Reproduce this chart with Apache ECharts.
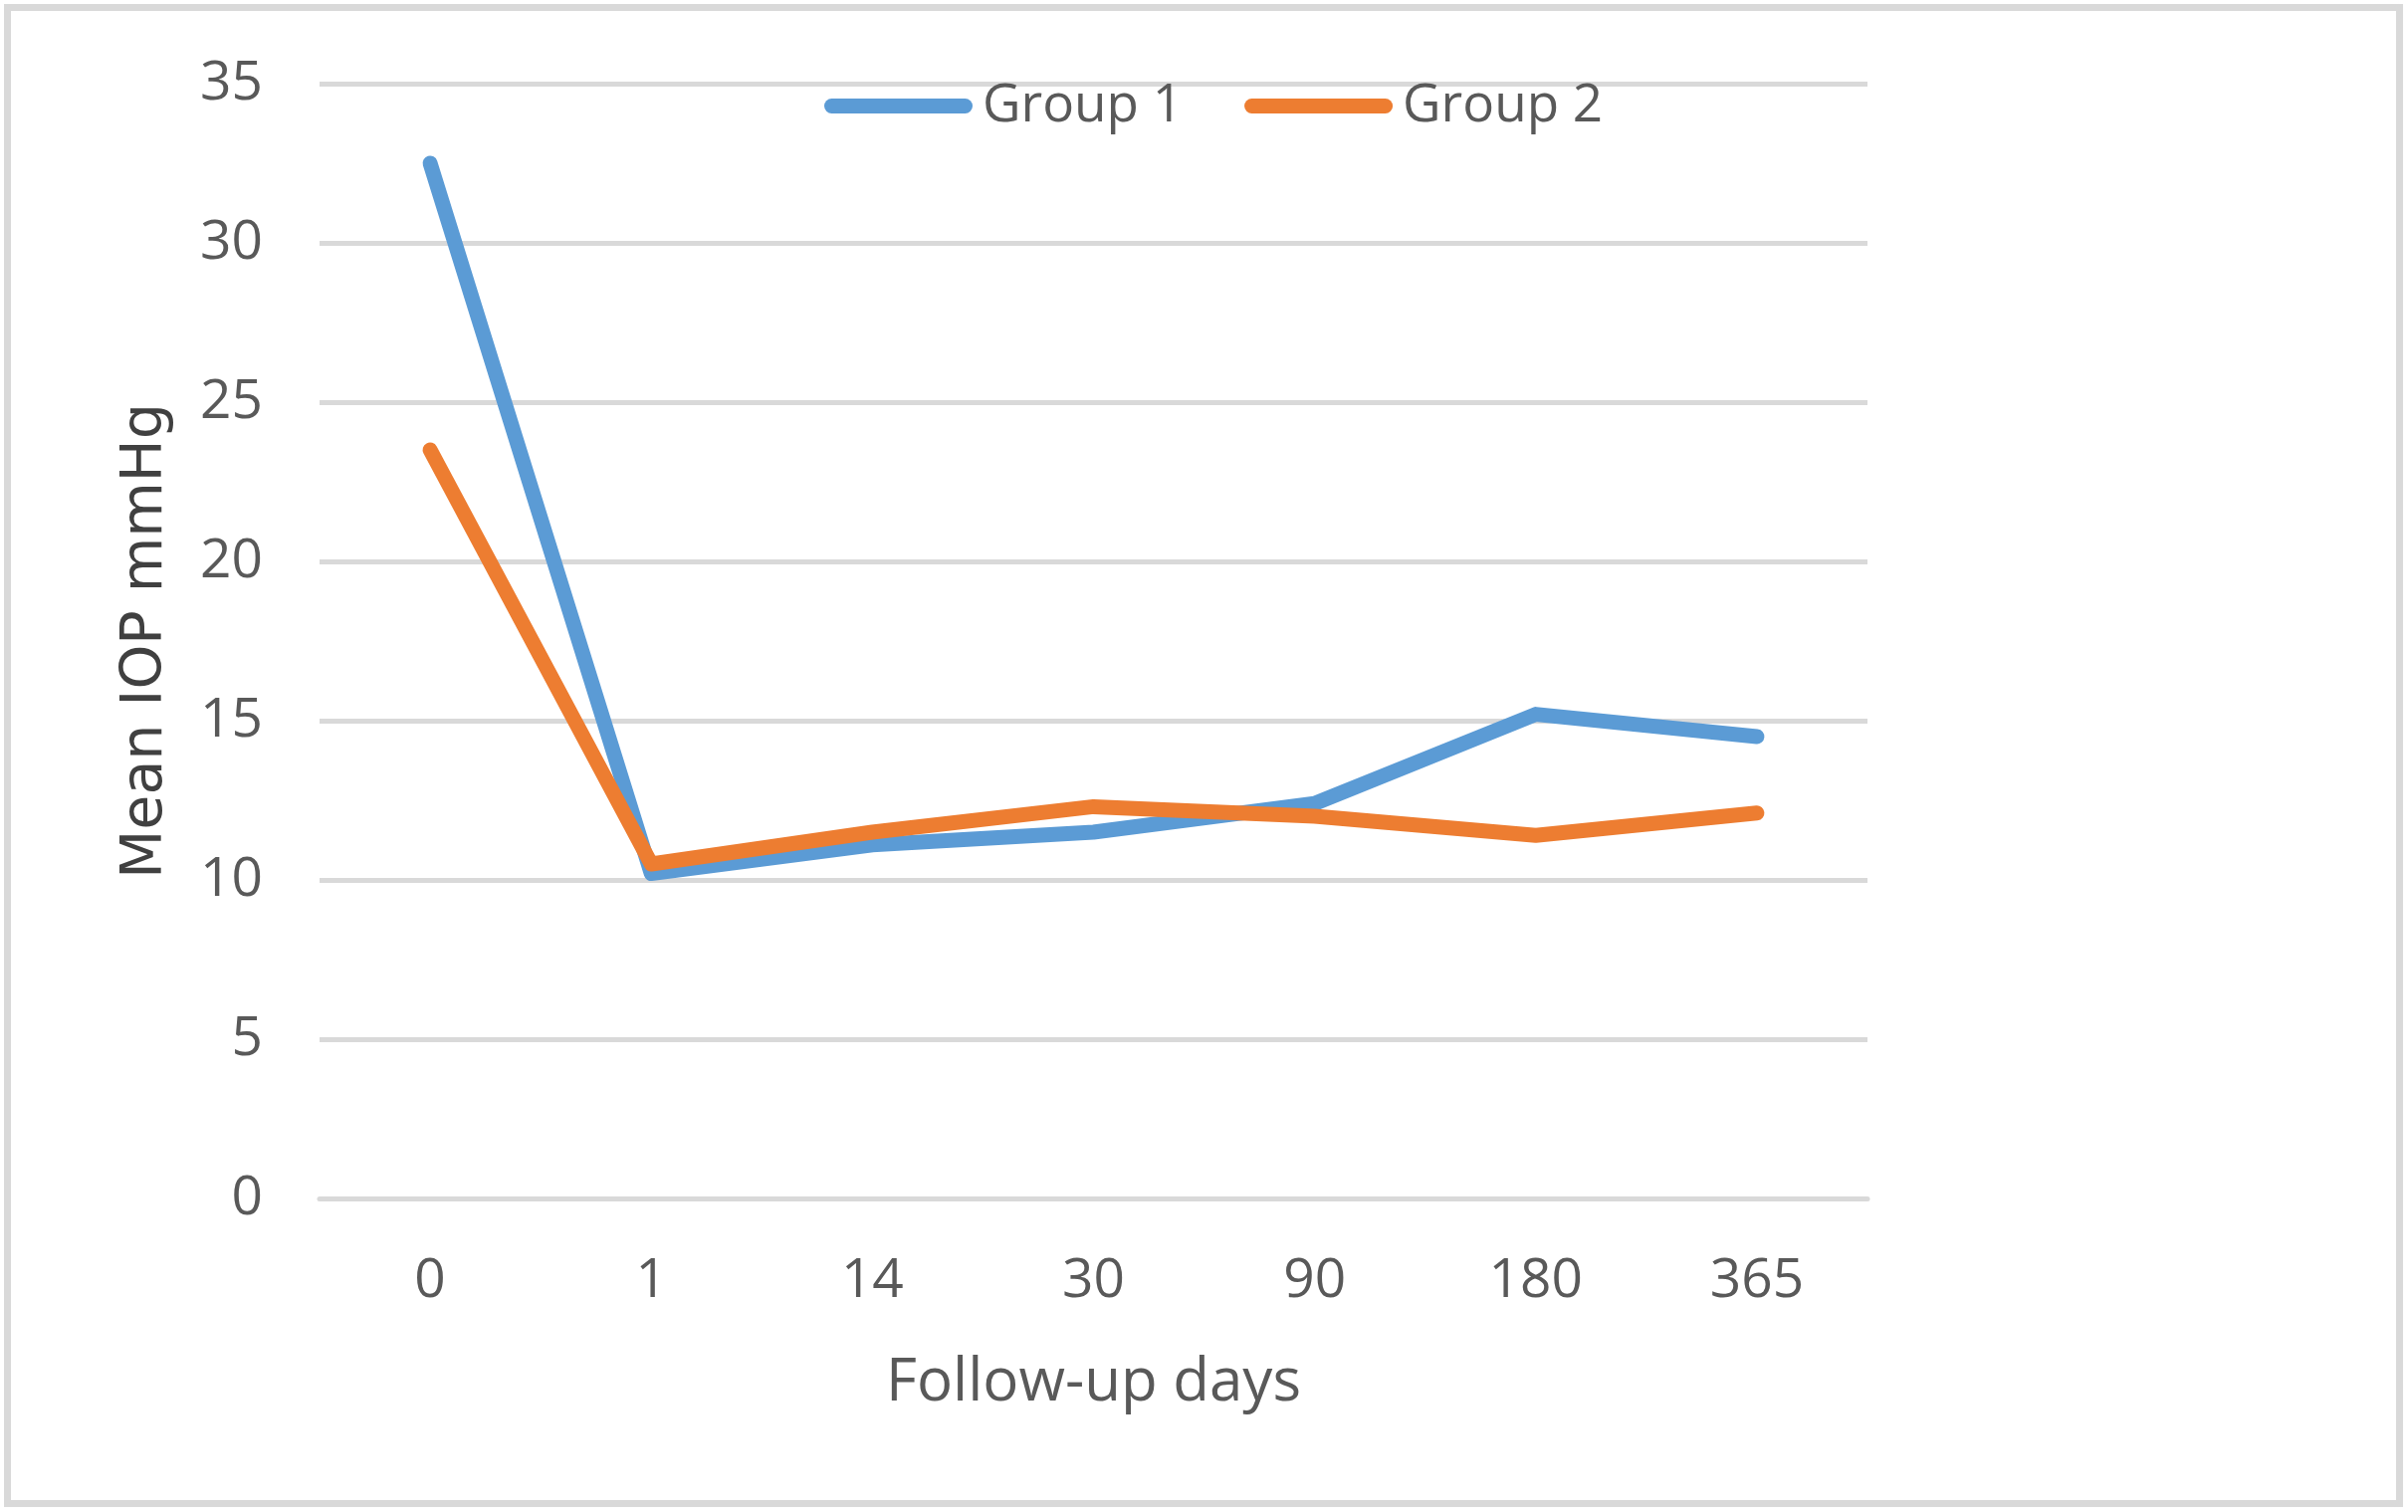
<!DOCTYPE html>
<html>
<head>
<meta charset="utf-8">
<script src="https://cdn.jsdelivr.net/npm/echarts@6/dist/echarts.min.js"></script>
<style>
html,body{margin:0;padding:0;background:#fff;}
#chart{width:2419px;height:1519px;}
</style>
</head>
<body>
<div id="chart"></div>
<script>
const categories = ['0', '1', '14', '30', '90', '180', '365'];
const group1 = [32.5, 10.2, 11.1, 11.5, 12.4, 15.2, 14.5];
const group2 = [23.5, 10.5, 11.5, 12.3, 12.0, 11.4, 12.1];
const seriesNames = ['Group 1', 'Group 2'];
const xTitle = 'Follow-up days';
const yTitle = 'Mean IOP mmHg';

const chart = echarts.init(document.getElementById('chart'), null, {renderer: 'canvas'});
const pill = 'path://M7.5,0 H141.5 A7.5,7.5 0 0 1 141.5,15 H7.5 A7.5,7.5 0 0 1 7.5,0 Z';
chart.setOption({
  animation: false,
  backgroundColor: '#ffffff',
  color: ['#5B9BD5', '#ED7D31'],
  graphic: [{
    type: 'rect',
    shape: {x: 7.5, y: 7.5, width: 2403, height: 1503},
    style: {fill: 'none', stroke: '#D9D9D9', lineWidth: 7},
    silent: true
  }],
  legend: {
    left: 828,
    top: 80,
    padding: 0,
    itemWidth: 149,
    itemHeight: 15,
    itemGap: 62,
    icon: pill,
    data: seriesNames,
    textStyle: {
      fontFamily: 'Open Sans',
      fontSize: 53,
      color: '#595959',
      padding: [0, 0, 0, 5]
    }
  },
  grid: {left: 321, top: 84, width: 1555, height: 1120, containLabel: false},
  xAxis: {
    type: 'category',
    data: categories,
    boundaryGap: true,
    name: xTitle,
    nameLocation: 'middle',
    nameGap: 156,
    nameTextStyle: {fontFamily: 'Open Sans', fontSize: 60, color: '#595959'},
    axisLine: {show: true, lineStyle: {color: '#D9D9D9', width: 5}},
    axisTick: {show: false},
    axisLabel: {fontFamily: 'Open Sans', fontSize: 55, color: '#595959', margin: 56}
  },
  yAxis: {
    type: 'value',
    min: 0,
    max: 35,
    interval: 5,
    name: yTitle,
    nameLocation: 'middle',
    nameRotate: 90,
    nameGap: 145,
    nameTextStyle: {fontFamily: 'DejaVu Sans', fontSize: 57, color: '#404040'},
    axisLine: {show: false},
    axisTick: {show: false},
    splitLine: {show: true, lineStyle: {color: '#D9D9D9', width: 5}},
    axisLabel: {fontFamily: 'Open Sans', fontSize: 55, color: '#595959', margin: 57}
  },
  series: [
    {
      name: seriesNames[0],
      type: 'line',
      data: group1,
      symbol: 'none',
      lineStyle: {width: 15, cap: 'round', join: 'round'}
    },
    {
      name: seriesNames[1],
      type: 'line',
      data: group2,
      symbol: 'none',
      lineStyle: {width: 15, cap: 'round', join: 'round'}
    }
  ]
});
</script>
</body>
</html>
